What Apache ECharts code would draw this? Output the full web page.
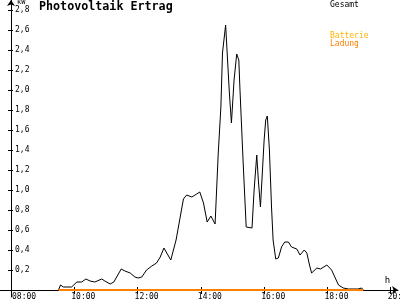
<!DOCTYPE html>
<html><head><meta charset="utf-8">
<script src="https://cdn.jsdelivr.net/npm/echarts@6/dist/echarts.min.js"></script>
<style>html,body{margin:0;padding:0;background:#fff}#c{width:400px;height:300px}</style>
</head><body><div id="c"></div>
<script>
const FONT = 'DejaVu Sans Mono';
const titleText = 'Photovoltaik Ertrag';
const unitY = 'kW';
const unitX = 'h';
const seriesNames = ['Gesamt', 'Batterie', 'Ladung'];
const gesamtTimes = ['09:30','09:34','09:39','09:55','10:05','10:14','10:22','10:30','10:39','10:52','10:58','11:08','11:15','11:29','11:36','11:46','11:55','12:01','12:08','12:17','12:27','12:36','12:43','12:50','13:03','13:13','13:27','13:33','13:43','13:52','13:58','14:05','14:12','14:19','14:27','14:33','14:38','14:41','14:47','14:54','14:58','15:03','15:08','15:12','15:14','15:20','15:26','15:37','15:41','15:46','15:49','15:53','15:56','16:00','16:03','16:06','16:10','16:14','16:17','16:22','16:27','16:33','16:39','16:46','16:52','17:02','17:08','17:16','17:21','17:26','17:30','17:40','17:47','17:59','18:08','18:14','18:21','18:30','18:40','18:58','19:05','19:08'];
const gesamtValues = [0,0.05,0.03,0.03,0.08,0.08,0.11,0.09,0.08,0.11,0.09,0.06,0.08,0.21,0.19,0.17,0.13,0.12,0.13,0.20,0.24,0.27,0.33,0.42,0.30,0.50,0.91,0.95,0.93,0.96,0.98,0.87,0.68,0.74,0.66,1.37,1.83,2.37,2.65,1.98,1.67,2.10,2.36,2.30,2.03,1.30,0.63,0.62,1.00,1.35,1.10,0.83,0.82,1.50,1.70,1.74,1.40,0.83,0.50,0.31,0.32,0.43,0.48,0.48,0.43,0.41,0.35,0.40,0.37,0.25,0.17,0.22,0.21,0.25,0.20,0.13,0.05,0.02,0.01,0.01,0.02,0];
const ladungTimes = ['09:30','19:08'];
const ladungValues = [0, 0];
const batterieValues = [];
const xMin = 8, xMax = 20, xStep = 2;
const yMin = 0, yMax = 2.8, yStep = 0.2;

function toH(t){ const p = t.split(':'); return +p[0] + (+p[1])/60; }
function pad(n){ return (n<10?'0':'')+n; }

const chart = echarts.init(document.getElementById('c'), null, {renderer:'canvas'});
const gL = 11, gT = 10, gW = 379.7, gH = 280;
const pxPerH = gW/(xMax-xMin), pxPerY = gH/(yMax-yMin);
const oL = 0, oT = 0, oW = 398, oH = 297;
const x2min = -(gL-oL)/pxPerH, x2max = x2min + oW/pxPerH;
const y2max = yMax + (gT-oT)/pxPerY, y2min = y2max - oH/pxPerY;

const txt = {fontFamily: FONT, fontSize: 8, color: '#000'};
chart.setOption({
  animation: false,
  backgroundColor: '#fff',
  title: {text: titleText, left: 39, top: 1, padding: 0,
    textStyle: {fontFamily: FONT, fontSize: 11.7, fontWeight: 'bold', color: '#000'}},
  legend: [
    {data: [{name: seriesNames[0], icon: 'none', textStyle: {color: '#000'}}],
     left: 325, top: 1, padding: 0, itemWidth: 0, itemHeight: 8, selectedMode: false,
     textStyle: {fontFamily: FONT, fontSize: 8}},
    {data: [{name: seriesNames[1], icon: 'none', textStyle: {color: '#ffb400'}},
            {name: seriesNames[2], icon: 'none', textStyle: {color: '#ff8000'}}],
     orient: 'vertical', left: 325, top: 32, padding: 0, itemGap: 0, itemWidth: 0, itemHeight: 8,
     selectedMode: false, textStyle: {fontFamily: FONT, fontSize: 8}}
  ],
  grid: [
    {left: gL, top: gT, width: gW, height: gH, containLabel: false, outerBoundsMode: 'none'},
    {left: oL, top: oT, width: oW, height: oH, containLabel: false, outerBoundsMode: 'none'}
  ],
  xAxis: [
    {type: 'value', gridIndex: 0, min: xMin, max: xMax, interval: xStep,
     axisLine: {show: false}, splitLine: {show: false},
     axisTick: {show: true, length: 4, lineStyle: {color: '#000', width: 1}},
     axisLabel: {...txt, margin: 3, align: 'left', padding: [0,0,0,-3],
       formatter: v => v === xMin ? '{first|' + pad(Math.round(v)) + ':00}' : pad(Math.round(v)) + ':00',
       rich: {first: {fontFamily: FONT, fontSize: 8, color: '#000', padding: [0,0,0,4]}}},
     name: unitX, nameLocation: 'end', nameGap: -6,
     nameTextStyle: {...txt, fontSize: 9, align: 'left', verticalAlign: 'bottom', padding: [0,0,5,0]}},
    {type: 'value', gridIndex: 1, min: x2min, max: x2max,
     axisLine: {show: true, onZero: true, symbol: ['none','arrow'], symbolSize: [6,6], lineStyle: {color: '#000', width: 1}},
     axisTick: {show: false}, axisLabel: {show: false}, splitLine: {show: false}},
    {type: 'value', gridIndex: 0, min: xMin, max: xMax, interval: xStep, position: 'bottom',
     axisLine: {show: false}, splitLine: {show: false}, axisLabel: {show: false},
     axisTick: {show: true, inside: true, length: 3, lineStyle: {color: '#000', width: 1}}}
  ],
  yAxis: [
    {type: 'value', gridIndex: 0, min: yMin, max: yMax, interval: yStep,
     axisLine: {show: false}, splitLine: {show: false},
     axisTick: {show: true, length: 3, lineStyle: {color: '#000', width: 1}},
     axisLabel: {...txt, inside: true, margin: 4,
       formatter: v => v === 0 ? '' : v.toFixed(1).replace('.', ',')},
     name: unitY, nameLocation: 'end', nameGap: 7,
     nameTextStyle: {...txt, fontSize: 7, align: 'left', verticalAlign: 'top', padding: [0,0,0,6]}},
    {type: 'value', gridIndex: 1, min: y2min, max: y2max,
     axisLine: {show: true, onZero: true, symbol: ['none','arrow'], symbolSize: [6,6], lineStyle: {color: '#000', width: 1}},
     axisTick: {show: false}, axisLabel: {show: false}, splitLine: {show: false}},
    {type: 'value', gridIndex: 0, min: yMin, max: yMax, interval: yStep, position: 'left',
     axisLine: {show: false}, splitLine: {show: false}, axisLabel: {show: false},
     axisTick: {show: true, inside: true, length: 2, lineStyle: {color: '#000', width: 1}}}
  ],
  series: [
    {name: seriesNames[0], type: 'line', xAxisIndex: 0, yAxisIndex: 0, showSymbol: false, symbol: 'none',
     color: '#000', lineStyle: {color: '#000', width: 1},
     data: gesamtTimes.map((t,i) => [toH(t), gesamtValues[i]]), z: 3},
    {name: seriesNames[1], type: 'line', xAxisIndex: 0, yAxisIndex: 0, symbol: 'none',
     color: '#ffb400', data: batterieValues, z: 3},
    {name: seriesNames[2], type: 'line', xAxisIndex: 0, yAxisIndex: 0, showSymbol: false, symbol: 'none',
     color: '#ff8000', lineStyle: {color: '#ff8000', width: 2},
     data: ladungTimes.map((t,i) => [toH(t), ladungValues[i]]), z: 4}
  ]
});
</script></body></html>
